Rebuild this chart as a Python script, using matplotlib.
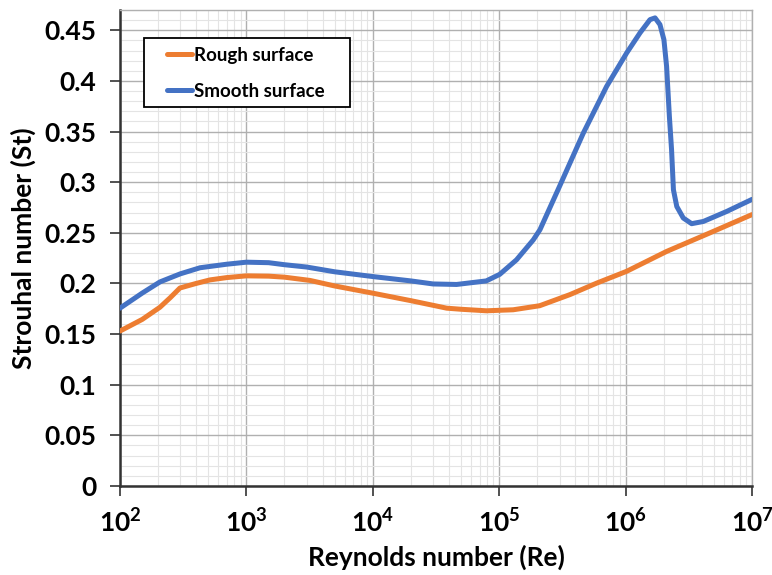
import matplotlib
matplotlib.use("Agg")
import matplotlib.pyplot as plt
from matplotlib.patches import Rectangle
from matplotlib.ticker import LogLocator, MultipleLocator, FixedLocator, FixedFormatter, NullFormatter

# Strouhal number vs Reynolds number for a circular cylinder
rough_re = [100, 150, 207, 250, 298, 400, 515, 700, 1000, 1500, 2000, 3180, 5000,
            1e4, 2e4, 3.84e4, 5e4, 7.9e4, 1.29e5, 2.09e5, 3.63e5, 5.9e5, 1.02e6,
            2.11e6, 4.66e6, 1e7]
rough_st = [0.153, 0.1645, 0.1765, 0.186, 0.1955, 0.200, 0.2035, 0.2058, 0.2075,
            0.2072, 0.2062, 0.2030, 0.1975, 0.1904, 0.183, 0.1756, 0.1745, 0.173,
            0.174, 0.178, 0.189, 0.2003, 0.212, 0.2316, 0.250, 0.268]

smooth_re = [100, 150, 207, 300, 430, 700, 1000, 1500, 2000, 3000, 5000, 1e4, 2e4,
             3e4, 4.6e4, 7.9e4, 1.01e5, 1.37e5, 1.86e5, 2.1e5, 3.03e5, 4.63e5,
             7.08e5, 1.02e6, 1.3e6, 1.56e6, 1.71e6, 1.87e6, 2.01e6, 2.11e6, 2.22e6,
             2.31e6, 2.39e6, 2.54e6, 2.86e6, 3.33e6, 4.12e6, 6.31e6, 1e7]
smooth_st = [0.1756, 0.1905, 0.2015, 0.2095, 0.2155, 0.219, 0.221, 0.2205, 0.2185,
             0.2162, 0.2115, 0.2068, 0.2025, 0.1995, 0.199, 0.2025, 0.209, 0.2233,
             0.243, 0.253, 0.297, 0.3485, 0.3946, 0.4276, 0.4474, 0.4605, 0.4622,
             0.4556, 0.4407, 0.4144, 0.365, 0.332, 0.2925, 0.276, 0.2646, 0.259,
             0.2612, 0.2711, 0.283]

x_ticks = [1e2, 1e3, 1e4, 1e5, 1e6, 1e7]
x_ticklabels = [r"$\mathbf{10^{2}}$", r"$\mathbf{10^{3}}$", r"$\mathbf{10^{4}}$",
                r"$\mathbf{10^{5}}$", r"$\mathbf{10^{6}}$", r"$\mathbf{10^{7}}$"]
y_ticks = [0, 0.05, 0.1, 0.15, 0.2, 0.25, 0.3, 0.35, 0.4, 0.45]
y_ticklabels = ["0", "0.05", "0.1", "0.15", "0.2", "0.25", "0.3", "0.35", "0.4", "0.45"]

plt.rcParams["font.family"] = ["Lato", "DejaVu Sans"]
plt.rcParams["font.weight"] = "bold"
plt.rcParams["mathtext.fontset"] = "custom"
plt.rcParams["mathtext.rm"] = "Lato:bold"
plt.rcParams["mathtext.bf"] = "Lato:bold"
plt.rcParams["mathtext.it"] = "Lato:bold"

fig = plt.figure(figsize=(7.72, 5.75), dpi=100)
ax = fig.add_axes([120 / 772, 1 - 486 / 575, 632 / 772, 476 / 575])

orange = "#ED7D31"
blue = "#4472C4"
ax.plot(rough_re, rough_st, color=orange, lw=3.6, solid_capstyle="round",
        solid_joinstyle="round", label="Rough surface", zorder=3)
ax.plot(smooth_re, smooth_st, color=blue, lw=3.6, solid_capstyle="round",
        solid_joinstyle="round", label="Smooth surface", zorder=4)

ax.set_xscale("log")
ax.set_xlim(1e2, 1e7)
ax.set_ylim(0, 0.47)

ax.xaxis.set_major_locator(FixedLocator(x_ticks))
ax.xaxis.set_major_formatter(FixedFormatter(x_ticklabels))
ax.xaxis.set_minor_locator(LogLocator(base=10, subs=range(2, 10), numticks=20))
ax.xaxis.set_minor_formatter(NullFormatter())
ax.yaxis.set_major_locator(FixedLocator(y_ticks))
ax.yaxis.set_major_formatter(FixedFormatter(y_ticklabels))
ax.yaxis.set_minor_locator(MultipleLocator(0.01))

ax.grid(True, which="major", color="#b0b0b0", lw=1.0, zorder=1)
ax.grid(True, which="minor", color="#e4e4e4", lw=0.8, zorder=0)
ax.set_axisbelow(True)

ax.tick_params(axis="y", which="major", direction="out", length=7, width=1.2,
               color="#333333", labelsize=19, pad=10)
ax.tick_params(axis="x", which="major", direction="out", length=7, width=1.2,
               color="#333333", labelsize=19, pad=9)
ax.tick_params(axis="both", which="minor", length=0)

for side in ("left", "bottom"):
    ax.spines[side].set_color("#333333")
    ax.spines[side].set_linewidth(1.8)
for side in ("top", "right"):
    ax.spines[side].set_color("#b0b0b0")
    ax.spines[side].set_linewidth(1.0)

ax.set_xlabel("Reynolds number (Re)", fontsize=19, fontweight="bold", labelpad=6)
ax.set_ylabel("Strouhal number (St)", fontsize=19, fontweight="bold", labelpad=6)

# legend: framed box drawn as a patch, entries placed inside it
ax.add_patch(Rectangle((24 / 632, 1 - 97 / 476), 206 / 632, 69 / 476,
                       transform=ax.transAxes, facecolor="white",
                       edgecolor="black", lw=1.3, zorder=5))
leg = ax.legend(loc="upper left", bbox_to_anchor=(47 / 632, 1 - 37 / 476),
                frameon=False, fontsize=13.5, handlelength=1.33,
                handletextpad=0.12, borderpad=0, labelspacing=1.0,
                borderaxespad=0)
leg.set_zorder(6)
for t in leg.get_texts():
    t.set_fontweight("bold")

fig.savefig("out.png", dpi=100, facecolor="white")
